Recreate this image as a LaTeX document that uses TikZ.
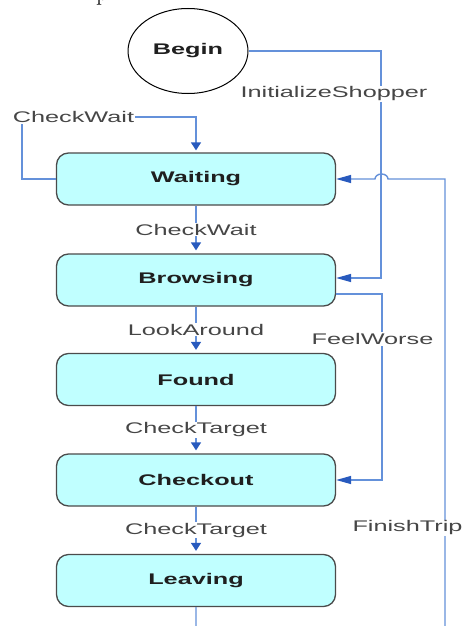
\documentclass[tikz,border=0pt]{standalone}
\usepackage{fontspec}
\usepackage{graphicx}
\newfontfamily\arialf{Liberation Sans}
\usetikzlibrary{arrows.meta,shapes.geometric}
\definecolor{lineblue}{RGB}{100,145,218}
\definecolor{tipblue}{RGB}{40,90,190}
\definecolor{boxfill}{RGB}{192,255,255}
\definecolor{boxdraw}{RGB}{75,75,75}
\definecolor{labgray}{RGB}{70,70,70}
\newcommand{\sx}[1]{\scalebox{1.64}[1]{#1}}
\tikzset{
  statebox/.style={draw=boxdraw, line width=1.3pt, fill=boxfill, rounded corners=12pt,
    minimum width=279pt, minimum height=52pt, inner sep=0pt,
    font=\arialf\bfseries\fontsize{15.4}{16}\selectfont, text=black!88},
  lab/.style={fill=white, inner sep=1pt, text=labgray,
    font=\arialf\fontsize{15.4}{16}\selectfont},
  conn/.style={draw=lineblue, line width=1.4pt},
  vtip/.style={-{Triangle[length=8pt,width=10pt,color=tipblue]}},
  htip/.style={-{Triangle[length=15pt,width=8pt,color=tipblue]}},
}
\begin{document}
\begin{tikzpicture}[x=1pt,y=-1pt]
\fill[white] (0,0) rectangle (467,626);
\useasboundingbox (0,0) rectangle (467,626);

% cut-off glyph at the top
\node[anchor=base west, inner sep=0pt, font=\fontsize{24}{24}\selectfont] (pglyph) at (96,1) {p};

% nodes
\node[draw, ellipse, line width=1pt, fill=white, minimum width=120pt, minimum height=85pt,
      inner sep=0pt, font=\arialf\bfseries\fontsize{15.4}{16}\selectfont, text=black!88]
      (begin) at (188,51) {\sx{Begin}};
\node[statebox] (waiting)  at (196,179)   {\sx{Waiting}};
\node[statebox] (browsing) at (196,280)   {\sx{Browsing}};
\node[statebox] (found)    at (196,379.5) {\sx{Found}};
\node[statebox] (checkout) at (196,480)   {\sx{Checkout}};
\node[statebox] (leaving)  at (196,580.5) {\sx{Leaving}};

% coordinates
\coordinate (ib) at (381,278);
\coordinate (cw) at (22,117);
\coordinate (fw) at (382,294);
\coordinate (ft1) at (196,660);
\coordinate (ft2) at (445,660);
\coordinate (ft3) at (445,179);
\coordinate (hopR) at (388,179);

% InitializeShopper
\draw[conn,htip] (begin.east) -| (ib) -- (ib -| browsing.east);
% CheckWait loop
\draw[conn,vtip,shorten >=2pt] (waiting.west) -| (cw) -| (waiting.north);
% FeelWorse
\draw[conn,htip] (fw -| browsing.east) -- (fw) |- (checkout.east);
% FinishTrip
\draw[conn,htip] (leaving.south) -- (ft1) -- (ft2) -- (ft3) -- (hopR)
  arc[start angle=0,end angle=180,x radius=6.5pt,y radius=5pt] -- (waiting.east);

% vertical transitions
\draw[conn,vtip,shorten >=3pt] (waiting) -- node[lab] (l1) {\sx{CheckWait}} (browsing);
\draw[conn,vtip,shorten >=3pt] (browsing) -- node[lab] (l2) {\sx{LookAround}} (found);
\draw[conn,vtip,shorten >=3pt] (found) -- node[lab] (l3) {\sx{CheckTarget}} (checkout);
\draw[conn,vtip,shorten >=3pt] (checkout) -- node[lab] (l4) {\sx{CheckTarget}} (leaving);

% labels on bent connectors
\node[lab] (linit) at (334,94) {\sx{InitializeShopper}};
\node[lab] (lcw) at (73.5,117) {\sx{CheckWait}};
\node[lab] (lfw) at (372.5,339) {\sx{FeelWorse}};
\node[lab] (lft) at (407.5,528) {\sx{FinishTrip}};
\end{tikzpicture}
\end{document}
